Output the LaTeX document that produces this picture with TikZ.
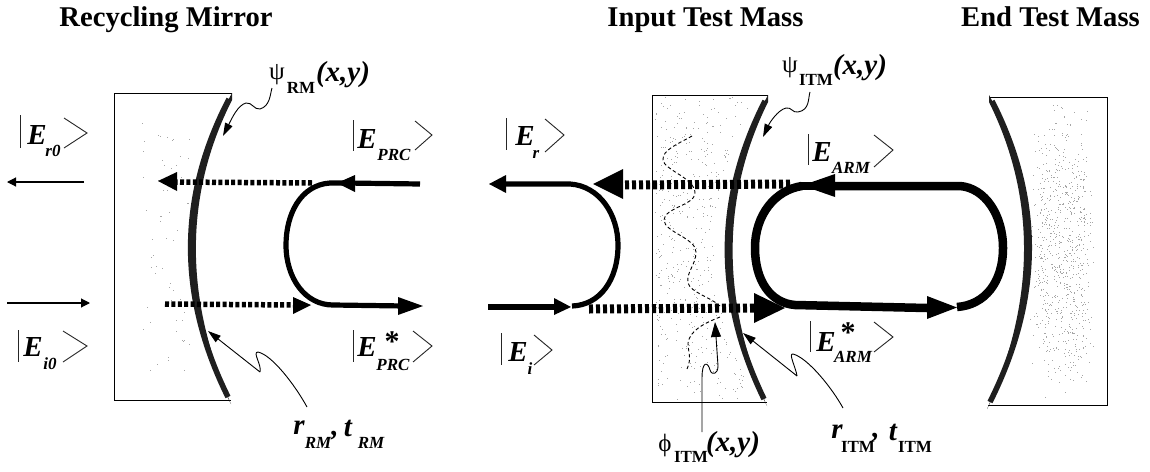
\documentclass[tikz,border=0pt]{standalone}
\usepackage{fontspec}
\setmainfont{Liberation Serif}
\usetikzlibrary{arrows.meta}
\newcommand\ketmark[8]{\draw[ketline] (#1,#2) -- (#1,#3); \draw[ketline] (#4,#6) -- (#5,#7) -- (#4,#8);}
\tikzset{
 x=1pt,y=-1pt,
 ketline/.style={line width=0.9pt,black!85},
 heading/.style={font=\fontsize{28.6}{30}\selectfont\bfseries,inner sep=0pt,anchor=base},
 bigE/.style={font=\fontsize{29}{31}\selectfont\bfseries\itshape,inner sep=0pt},
 subs/.style={font=\fontsize{17}{19}\selectfont\bfseries\itshape,inner sep=0pt},
 subr/.style={font=\fontsize{17}{19}\selectfont\bfseries,inner sep=0pt},
 sym/.style={font=\fontsize{25}{27}\selectfont,inner sep=0pt},
 coords/.style={font=\fontsize{29}{31}\selectfont\bfseries\itshape,inner sep=0pt},
 coef/.style={font=\fontsize{29}{31}\selectfont\bfseries\itshape,inner sep=0pt},
 starmark/.style={font=\fontsize{30}{32}\selectfont\bfseries,inner sep=0pt},
 thinbeam/.style={line width=1.1pt,-{Triangle[length=9pt,width=9pt]}},
 beam/.style={line width=5.2pt},
 armbeam/.style={line width=8.5pt},
 dotsmall/.style={line width=5.5pt,dash pattern=on 4pt off 2.4pt},
 dotbig/.style={line width=9pt,dash pattern=on 4pt off 3pt},
 headS/.style={fill=black},
 leader/.style={line width=0.9pt,-{Triangle[length=13pt,width=8pt]}},
 block/.style={draw=black,line width=1pt,fill=white},
 mirrorfill/.style={fill=black!88,draw=none},
 mirrorline/.style={draw=black!88,line width=5.5pt},
 speck/.style={fill=black!35,draw=none},
}
\begin{document}
\begin{tikzpicture}
\useasboundingbox[fill=white] (0,0) rectangle (1150,471);
% blocks
\draw[block] (232,93) -- (114.5,93) -- (114.5,400) -- (231,400);
\draw[block] (768,95) -- (652,95) -- (652,402) -- (767,402);
\draw[block] (990,97) -- (1107,97) -- (1107,405) -- (988,405);
% specks
\pgfmathsetseed{4211}
\foreach \i in {1,...,60}{\pgfmathsetmacro\px{140+rnd*50}\pgfmathsetmacro\py{120+rnd*260}\fill[speck] (\px,\py) rectangle ++(1,1);}
\foreach \i in {1,...,420}{\pgfmathsetmacro\py{97+rnd*302}\pgfmathsetmacro\px{654+rnd*(60+40*(abs(\py-248)/150)^2)}\fill[speck] (\px,\py) rectangle ++(1,1);}
\foreach \i in {1,...,750}{\pgfmathsetmacro\py{100+rnd*200+rnd*100}\pgfmathsetmacro\px{1030+rnd*50+rnd*15}\fill[speck] (\px,\py) rectangle ++(1,1);}
% wavy phase front
\draw[line width=0.9pt,dash pattern=on 3.5pt off 2.5pt] (692,136) .. controls (678,144) and (662,150) .. (663,160) .. controls (664,170) and (695,178) .. (695,193) .. controls (695,205) and (664,208) .. (664,220) .. controls (664,232) and (696,238) .. (696,252) .. controls (696,265) and (686,272) .. (688,283) .. controls (690,292) and (712,298) .. (720,306);
\draw[line width=0.9pt,dash pattern=on 3.5pt off 2.5pt] (720,317) .. controls (705,323) and (690,330) .. (688,343) .. controls (688,352) and (692,358) .. (687,369);
% mirrors
\fill[mirrorfill] (232,93) .. controls (176,195) and (176,298) .. (231,404) .. controls (184,298) and (184,195) .. (232,100) -- cycle;
\draw[mirrorline] (229,99) .. controls (178,197) and (178,296) .. (228,397);
\fill[mirrorfill] (768,95) .. controls (713,197) and (713,300) .. (767,406) .. controls (721,300) and (721,197) .. (768,102) -- cycle;
\draw[mirrorline] (765,101) .. controls (715,199) and (715,298) .. (764,399);
\fill[mirrorfill] (989,95) .. controls (1044,197) and (1044,300) .. (987,409) .. controls (1036,300) and (1036,197) .. (989,102) -- cycle;
\draw[mirrorline] (992,101) .. controls (1042,199) and (1042,298) .. (990,402);
% thin input and output beams
\coordinate (r0a) at (84,182); \coordinate (r0b) at (7,182);
\coordinate (i0a) at (7,303); \coordinate (i0b) at (90,303);
\draw[thinbeam] (r0a) -- (r0b);
\draw[thinbeam] (i0a) -- (i0b);
% recycling mirror dotted
\coordinate (d1a) at (312,183); \coordinate (d1b) at (173,182); \coordinate (d1t) at (158,181);
\coordinate (d2a) at (165,304); \coordinate (d2b) at (296,305); \coordinate (d2t) at (311,305);
\draw[dotsmall] (d1a) -- (d1b);
\fill[headS] (d1t) -- (177,172) -- (177,191) -- cycle;
\draw[dotsmall] (d2a) -- (d2b);
\fill[headS] (d2t) -- (293,297) -- (293,314) -- cycle;
% PRC loop
\draw[beam] (420,184) -- (345,183) -- (330,183) .. controls (300,185) and (286,215) .. (286,245) .. controls (286,278) and (305,305) .. (333,305) -- (405,306);
\fill[headS] (337,183) -- (355,175) -- (355,192) -- cycle;
\fill[headS] (423,306) -- (398,297) -- (398,315) -- cycle;
% Er, Ei loop
\draw[beam] (498,184) -- (570,184) .. controls (600,186) and (618,215) .. (618,245) .. controls (618,280) and (600,305) .. (572,306);
\draw[beam] (488,307) -- (565,307);
\fill[headS] (489,184) -- (506,175) -- (506,193) -- cycle;
\fill[headS] (571,307) -- (554,298) -- (554,315) -- cycle;
% ITM dotted
\coordinate (d3a) at (790,184); \coordinate (d3b) at (623,185);
\coordinate (d4a) at (589,309); \coordinate (d4b) at (754,308);
\draw[dotbig] (d3a) -- (d3b);
\fill[headS] (593,184) -- (623,169) -- (623,199) -- cycle;
\draw[dotbig] (d4a) -- (d4b);
\fill[headS] (785,308) -- (754,293) -- (754,323) -- cycle;
% arm loop
\draw[armbeam] (835,186) -- (960,186) .. controls (985,188) and (1003,215) .. (1003,248) .. controls (1003,282) and (985,305) .. (957,307);
\draw[armbeam] (802,186) .. controls (775,190) and (755,215) .. (755,248) .. controls (755,280) and (770,303) .. (795,305) -- (927,308);
\draw[armbeam] (800,186) -- (835,186);
\fill[headS] (802,185.5) -- (835,174) -- (835,197) -- cycle;
\fill[headS] (957,307.5) -- (927,296) -- (927,319) -- cycle;
% leaders
\coordinate (psiR) at (272,88); \coordinate (psiRt) at (223,136);
\draw[leader] (psiR) .. controls (270,95) and (270,106) .. (260,109) .. controls (254,110) and (252,102) .. (246,103) .. controls (238,105) and (232,118) .. (psiRt);
\coordinate (psiI) at (810,92); \coordinate (psiIt) at (763,137);
\draw[leader] (psiI) .. controls (808,98) and (810,110) .. (798,112) .. controls (792,113) and (792,107) .. (786,108) .. controls (778,110) and (770,122) .. (psiIt);
\coordinate (rR) at (307,407); \coordinate (rRk) at (260,372); \coordinate (rRt) at (208,331);
\draw[line width=0.9pt] (rR) .. controls (295,385) and (272,355) .. (258,352) .. controls (252,352) and (262,365) .. (rRk);
\draw[leader] (rRk) -- (rRt);
\coordinate (rI) at (843,408); \coordinate (rIk) at (797,376); \coordinate (rIt) at (743,333);
\draw[line width=0.9pt] (rI) .. controls (832,388) and (808,358) .. (793,354) .. controls (788,353) and (796,368) .. (rIk);
\draw[leader] (rIk) -- (rIt);
\coordinate (phi) at (702,432); \coordinate (phik) at (718,366); \coordinate (phit) at (715,322);
\draw[line width=0.9pt] (phi) -- (702,378) .. controls (702,360) and (708,362) .. (710,370) .. controls (712,376) and (718,374) .. (phik);
\draw[line width=0.9pt,-{Triangle[length=15pt,width=10pt]}] (phik) -- (phit);
% titles
\node[heading] (t1) at (166,27) {Recycling Mirror};
\node[heading] (t2) at (705.5,27) {Input Test Mass};
\node[heading] (t3) at (1050.5,27) {End Test Mass};
% kets
\ketmark{20}{115}{148}{64}{87}{118}{133}{148}
\node[bigE] (e1) at (37,135) {E}; \node[subs] (e1s) at (53,151) {r0};
\ketmark{353}{120}{151}{415}{432}{121}{135}{150}
\node[bigE] (e2) at (367,139) {E}; \node[subs] (e2s) at (394,155) {PRC};
\ketmark{18}{330}{362}{63}{87}{331}{346}{362}
\node[bigE] (e3) at (33,347) {E}; \node[subs] (e3s) at (50,364) {i0};
\ketmark{353}{330}{362}{413}{432}{331}{346}{362}
\node[bigE] (e4) at (367,347) {E}; \node[subs] (e4s) at (393,365) {PRC};
\node[starmark] (e4a) at (392,342) {*};
\ketmark{506}{118}{150}{545}{564}{119}{135}{152}
\node[bigE] (e5) at (525,136) {E}; \node[subs] (e5s) at (536,154) {r};
\ketmark{501}{333}{365}{534}{552}{335}{350}{365}
\node[bigE] (e6) at (518,352) {E}; \node[subs] (e6s) at (530,369) {i};
\ketmark{808}{134}{165}{874}{893}{135}{150}{167}
\node[bigE] (e7) at (822,152) {E}; \node[subs] (e7s) at (851,168) {ARM};
\ketmark{810}{321}{352}{874}{893}{322}{337}{352}
\node[bigE] (e8) at (826,342) {E}; \node[subs] (e8s) at (853,357) {ARM};
\node[starmark] (e8a) at (848,333) {*};
% psi and phi labels
\node[sym] (p1) at (277,75) {ψ}; \node[subr] (p1s) at (301,88) {RM}; \node[coords] (p1c) at (343,75) {(x,y)};
\node[sym] (p2) at (790,68) {ψ}; \node[subr] (p2s) at (816,80) {ITM}; \node[coords] (p2c) at (860,68) {(x,y)};
\node[sym] (p3) at (665,445) {ϕ}; \node[subr] (p3s) at (691,457) {ITM}; \node[coords] (p3c) at (733,445) {(x,y)};
% reflectivity labels
\node[coef] (c1) at (299,428) {r}; \node[subs] (c1s) at (318,443) {RM}; \node[coef] (c1c) at (335,436) {,}; \node[coef] (c1t) at (348,428) {t}; \node[subs] (c1u) at (371,443) {RM};
\node[coef] (c2) at (837,432) {r}; \node[subr] (c2s) at (858,447) {ITM}; \node[coef] (c2c) at (876,438) {,}; \node[coef] (c2t) at (893,432) {t}; \node[subr] (c2u) at (915,447) {ITM};
\end{tikzpicture}
\end{document}
